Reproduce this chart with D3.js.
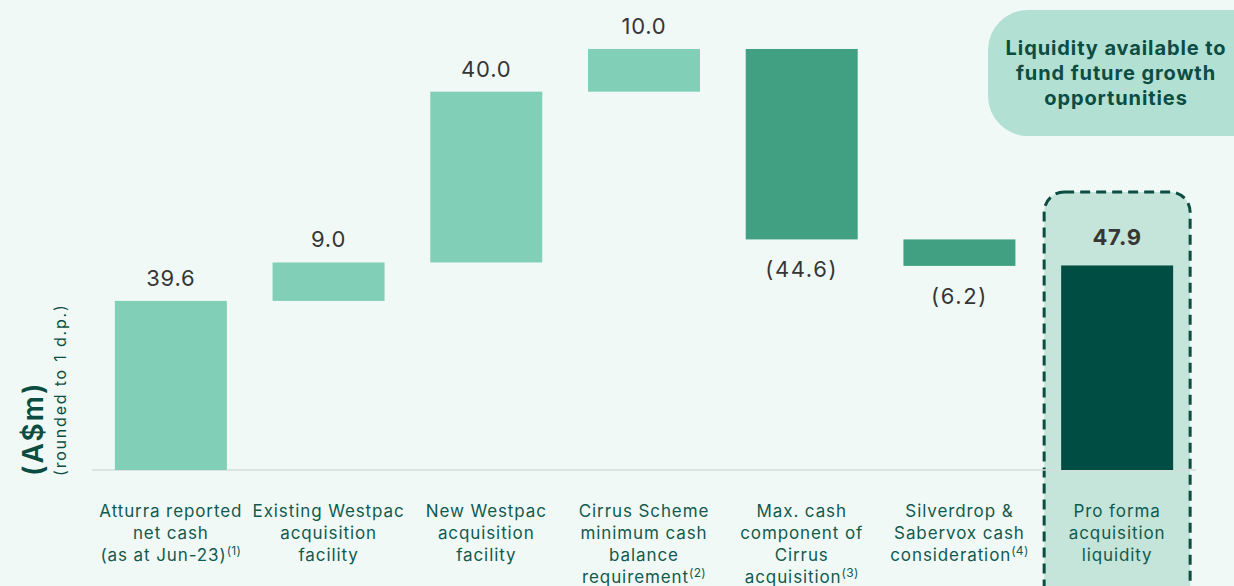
<!DOCTYPE html>
<html>
<head>
<meta charset="utf-8">
<script src="https://cdn.jsdelivr.net/npm/d3@7"></script>
<style>
  html, body { margin: 0; padding: 0; background: #f0f9f6; }
  svg { display: block; }
</style>
</head>
<body>
<div id="container"></div>
<script>
// chart data
let categories = [
  ["Atturra reported", "net cash", "(as at Jun-23)|(1)"],
  ["Existing Westpac", "acquisition", "facility"],
  ["New Westpac", "acquisition", "facility"],
  ["Cirrus Scheme", "minimum cash", "balance", "requirement|(2)"],
  ["Max. cash", "component of", "Cirrus", "acquisition|(3)"],
  ["Silverdrop &", "Sabervox cash", "consideration|(4)"],
  ["Pro forma", "acquisition", "liquidity"]
];
let values = [39.6, 9.0, 40.0, 10.0, -44.6, -6.2, 47.9];
let valueLabels = ["39.6", "9.0", "40.0", "10.0", "(44.6)", "(6.2)", "47.9"];
let kinds = ["start", "up", "up", "up", "down", "down", "total"];

let w = 1234;
let h = 586;
let font = "Inter, 'Noto Sans', sans-serif";

let viz = d3.select("#container")
  .append("svg")
    .attr("width", w)
    .attr("height", h)
    .style("background-color", "#f0f9f6");

let xScale = d3.scaleBand()
  .domain(d3.range(categories.length))
  .range([92, 1196])
  .paddingInner(0.29)
  .paddingOuter(0.145);

let yScale = d3.scaleLinear().domain([0, 100]).range([470, 43]);

// running totals for the waterfall
let bars = [];
let running = 0;
values.forEach(function(v, i){
  let from, to;
  if (kinds[i] == "total" || kinds[i] == "start") {
    from = 0; to = v; running = v;
  } else {
    from = running; to = running + v; running = to;
  }
  bars.push({i: i, from: from, to: to, v: v, kind: kinds[i], label: valueLabels[i]});
});

function barColor(d){
  if (d.kind == "total") return "#004d43";
  if (d.kind == "down") return "#40a081";
  return "#80cfb6";
}

// highlight box behind the total
let last = categories.length - 1;
viz.append("rect")
  .attr("x", xScale(last) - 17)
  .attr("y", 192)
  .attr("width", xScale.bandwidth() + 34)
  .attr("height", 420)
  .attr("rx", 20)
  .attr("fill", "#c5e4da")
  .attr("stroke", "#0b4d43")
  .attr("stroke-width", 3)
  .attr("stroke-dasharray", "10 6");

// callout bubble
let bubble = viz.append("g");
bubble.append("rect")
  .attr("x", 988)
  .attr("y", 10)
  .attr("width", 290)
  .attr("height", 126)
  .attr("rx", 40)
  .attr("fill", "#b2e0d2");
["Liquidity available to", "fund future growth", "opportunities"].forEach(function(t, k){
  bubble.append("text")
    .text(t)
    .attr("x", 1116)
    .attr("y", 55 + k * 25)
    .attr("text-anchor", "middle")
    .attr("font-family", font)
    .attr("font-weight", "bold")
    .attr("font-size", 20)
    .attr("letter-spacing", 0.9)
    .attr("fill", "#0b4d43");
});

// baseline
viz.append("line")
  .attr("x1", 92)
  .attr("x2", 1196)
  .attr("y1", yScale(0))
  .attr("y2", yScale(0))
  .attr("stroke", "#d5dcd9")
  .attr("stroke-width", 1.5);

// bars
viz.selectAll(".bar").data(bars).enter()
  .append("rect")
    .attr("class", "bar")
    .attr("x", function(d){ return xScale(d.i); })
    .attr("y", function(d){ return yScale(Math.max(d.from, d.to)); })
    .attr("width", xScale.bandwidth())
    .attr("height", function(d){ return Math.abs(yScale(d.from) - yScale(d.to)); })
    .attr("fill", barColor);

// value labels
viz.selectAll(".val").data(bars).enter()
  .append("text")
    .attr("class", "val")
    .text(function(d){ return d.label; })
    .attr("x", function(d){ return xScale(d.i) + xScale.bandwidth() / 2; })
    .attr("y", function(d){
      if (d.v < 0) return yScale(Math.min(d.from, d.to)) + 38;
      if (d.kind == "total") return yScale(d.to) - 20;
      return yScale(d.to) - 15;
    })
    .attr("text-anchor", "middle")
    .attr("font-family", font)
    .attr("font-size", 22)
    .attr("letter-spacing", function(d){ return d.v < 0 ? 1.6 : 0.8; })
    .attr("font-weight", function(d){ return d.kind == "total" ? "bold" : "normal"; })
    .attr("fill", "#363636");

// category labels
categories.forEach(function(lines, i){
  let cx = xScale(i) + xScale.bandwidth() / 2;
  let t = viz.append("text")
    .attr("x", cx)
    .attr("y", 517)
    .attr("text-anchor", "middle")
    .attr("font-family", font)
    .attr("font-size", 17)
    .attr("letter-spacing", 0.9)
    .attr("fill", "#125a4e");
  lines.forEach(function(line, k){
    let parts = line.split("|");
    t.append("tspan")
      .attr("x", cx)
      .attr("dy", k == 0 ? 0 : 22)
      .text(parts[0]);
    if (parts[1]) {
      t.append("tspan")
        .attr("dy", -6)
        .attr("font-size", 12)
        .attr("letter-spacing", 0.3)
        .text(parts[1]);
      t.append("tspan").attr("dy", 6).text("");
    }
  });
});

// y axis title
viz.append("text")
  .text("(A$m)")
  .attr("transform", "translate(43, 476) rotate(-90)")
  .attr("font-family", font)
  .attr("font-weight", 600)
  .attr("font-size", 28)
  .attr("letter-spacing", 2)
  .attr("fill", "#0b4d43");
viz.append("text")
  .text("(rounded to 1 d.p.)")
  .attr("transform", "translate(66, 476) rotate(-90)")
  .attr("font-family", font)
  .attr("font-size", 16)
  .attr("letter-spacing", 1.8)
  .attr("fill", "#0b4d43");
</script>
</body>
</html>
